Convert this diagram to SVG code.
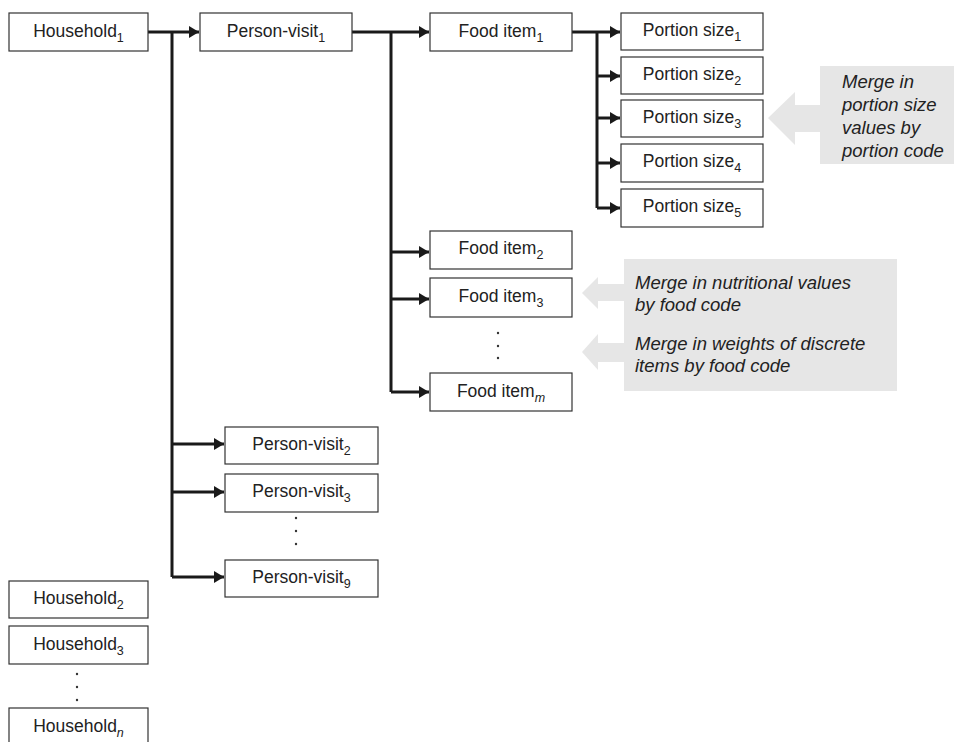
<svg xmlns="http://www.w3.org/2000/svg" width="956" height="742" viewBox="0 0 956 742">
<defs>
<style>
.box{fill:#fff;stroke:#333;stroke-width:1.2}
.t{font-family:"Liberation Sans",Arial,sans-serif;font-size:17.5px;fill:#222;text-anchor:middle}
.s{font-size:12.5px}
.c{font-family:"Liberation Sans",Arial,sans-serif;font-size:18.5px;font-style:italic;fill:#222}
.ln{fill:none;stroke:#1a1a1a;stroke-width:3}
.ar{fill:none;stroke:#1a1a1a;stroke-width:3;marker-end:url(#ah)}
.g{fill:#e6e6e6}
.dot{fill:#333}
</style>
<marker id="ah" markerUnits="userSpaceOnUse" markerWidth="12" markerHeight="14" refX="10" refY="7" orient="auto">
<path d="M0,1 L10,7 L0,13 Z" fill="#1a1a1a"/>
</marker>
</defs>
<rect width="956" height="742" fill="#fff"/>

<g id="callouts">
<rect class="g" x="820" y="66" width="134" height="98"/>
<polygon class="g" points="768,118 795,92 795,105 821,105 821,132 795,132 795,145"/>
<rect class="g" x="624" y="259" width="273" height="132"/>
<polygon class="g" points="582,293 598,277 598,284 625,284 625,301 598,301 598,309"/>
<polygon class="g" points="582,352 598,334 598,343 625,343 625,362 598,362 598,370"/>
<text class="c" x="842" y="88">Merge in</text>
<text class="c" x="842" y="111">portion size</text>
<text class="c" x="842" y="134">values by</text>
<text class="c" x="842" y="157">portion code</text>
<text class="c" x="635" y="289">Merge in nutritional values</text>
<text class="c" x="635" y="311">by food code</text>
<text class="c" x="635" y="350">Merge in weights of discrete</text>
<text class="c" x="635" y="372">items by food code</text>
</g>

<g id="connectors">
<path class="ar" d="M148,32 H199"/>
<path class="ln" d="M172,32 V577"/>
<path class="ar" d="M172,444 H224"/>
<path class="ar" d="M172,492 H224"/>
<path class="ar" d="M172,577 H224"/>
<path class="ar" d="M352,32 H429"/>
<path class="ln" d="M391,32 V392"/>
<path class="ar" d="M391,252 H429"/>
<path class="ar" d="M391,299 H429"/>
<path class="ar" d="M391,392 H429"/>
<path class="ar" d="M572,32 H620"/>
<path class="ln" d="M597,32 V208"/>
<path class="ar" d="M597,76 H620"/>
<path class="ar" d="M597,118 H620"/>
<path class="ar" d="M597,163 H620"/>
<path class="ar" d="M597,208 H620"/>
</g>

<g id="household1"><rect class="box" x="9" y="13" width="139" height="38"/><text class="t" x="78.5" y="37">Household<tspan class="s" dy="4.5">1</tspan></text></g>
<g id="household2"><rect class="box" x="9" y="581" width="139" height="37"/><text class="t" x="78.5" y="604">Household<tspan class="s" dy="4.5">2</tspan></text></g>
<g id="household3"><rect class="box" x="9" y="626" width="139" height="38"/><text class="t" x="78.5" y="650">Household<tspan class="s" dy="4.5">3</tspan></text></g>
<g id="householdn"><rect class="box" x="9" y="708" width="139" height="40"/><text class="t" x="78.5" y="732">Household<tspan class="s" dy="4.5" font-style="italic">n</tspan></text></g>
<g id="household-dots"><circle class="dot" cx="77" cy="674" r="1.2"/><circle class="dot" cx="77" cy="687" r="1.2"/><circle class="dot" cx="77" cy="700" r="1.2"/></g>

<g id="personvisit1"><rect class="box" x="200" y="13" width="152" height="38"/><text class="t" x="276" y="37">Person-visit<tspan class="s" dy="4.5">1</tspan></text></g>
<g id="personvisit2"><rect class="box" x="225" y="427" width="153" height="37"/><text class="t" x="301.5" y="450">Person-visit<tspan class="s" dy="4.5">2</tspan></text></g>
<g id="personvisit3"><rect class="box" x="225" y="474" width="153" height="38"/><text class="t" x="301.5" y="497">Person-visit<tspan class="s" dy="4.5">3</tspan></text></g>
<g id="personvisit9"><rect class="box" x="225" y="560" width="153" height="37"/><text class="t" x="301.5" y="583">Person-visit<tspan class="s" dy="4.5">9</tspan></text></g>
<g id="personvisit-dots"><circle class="dot" cx="296" cy="518" r="1.2"/><circle class="dot" cx="296" cy="531" r="1.2"/><circle class="dot" cx="296" cy="544" r="1.2"/></g>

<g id="fooditem1"><rect class="box" x="430" y="13" width="142" height="38"/><text class="t" x="501" y="37">Food item<tspan class="s" dy="4.5">1</tspan></text></g>
<g id="fooditem2"><rect class="box" x="430" y="231" width="142" height="38"/><text class="t" x="501" y="254">Food item<tspan class="s" dy="4.5">2</tspan></text></g>
<g id="fooditem3"><rect class="box" x="430" y="278" width="142" height="39"/><text class="t" x="501" y="302">Food item<tspan class="s" dy="4.5">3</tspan></text></g>
<g id="fooditemm"><rect class="box" x="430" y="373" width="142" height="38"/><text class="t" x="501" y="397">Food item<tspan class="s" dy="4.5" font-style="italic">m</tspan></text></g>
<g id="fooditem-dots"><circle class="dot" cx="498" cy="333" r="1.2"/><circle class="dot" cx="498" cy="346" r="1.2"/><circle class="dot" cx="498" cy="358" r="1.2"/></g>

<g id="portion1"><rect class="box" x="621" y="13" width="142" height="37"/><text class="t" x="692" y="36">Portion size<tspan class="s" dy="4.5">1</tspan></text></g>
<g id="portion2"><rect class="box" x="621" y="57" width="142" height="37"/><text class="t" x="692" y="80">Portion size<tspan class="s" dy="4.5">2</tspan></text></g>
<g id="portion3"><rect class="box" x="621" y="100" width="142" height="37"/><text class="t" x="692" y="123">Portion size<tspan class="s" dy="4.5">3</tspan></text></g>
<g id="portion4"><rect class="box" x="621" y="144" width="142" height="38"/><text class="t" x="692" y="167">Portion size<tspan class="s" dy="4.5">4</tspan></text></g>
<g id="portion5"><rect class="box" x="621" y="189" width="142" height="38"/><text class="t" x="692" y="212">Portion size<tspan class="s" dy="4.5">5</tspan></text></g>
</svg>
